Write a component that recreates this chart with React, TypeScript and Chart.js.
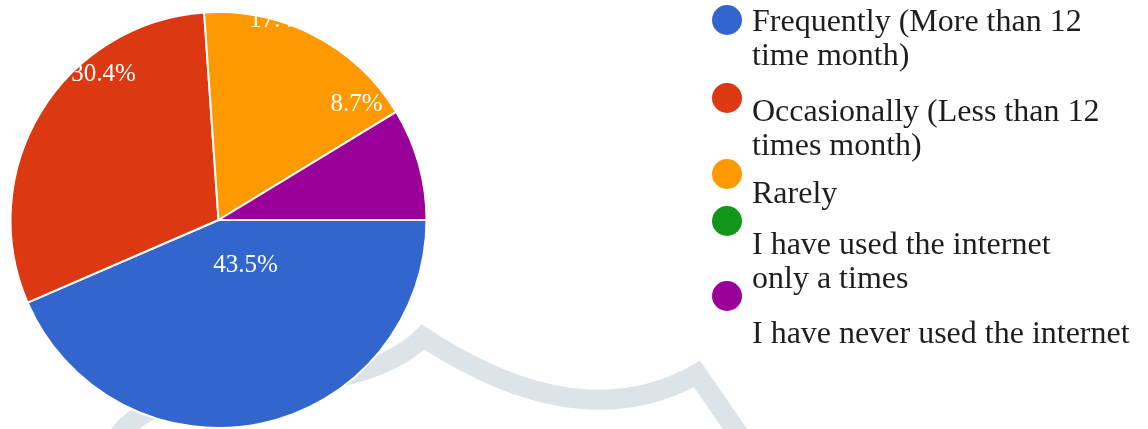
import React, { useEffect, useRef } from "react";
import { Chart, registerables } from "chart.js";

Chart.register(...registerables);

// ---- data ----
const legendLines: string[][] = [
  ["Frequently (More than 12", "time month)"],
  ["Occasionally (Less than 12", "times month)"],
  ["Rarely"],
  ["I have used the internet", "only a times"],
  ["I have never used the internet"],
];
const categories = legendLines.map((l) => l.join(" "));
const shares = [43.5, 30.4, 17.4, 0, 8.7];
const sliceLabels = ["43.5%", "30.4%", "17.4%", "", "8.7%"];
const sliceColors = ["#3366cc", "#dc3912", "#ff9900", "#109618", "#990099"];

// ---- styling / layout (not data) ----
const labelPlacement = [
  { angle: 58.5, r: 0.248 },
  { angle: 232, r: 0.897 },
  { angle: 287.4, r: 1.014 },
  { angle: 0, r: 0 },
  { angle: 319.7, r: 0.87 },
];
const legendLayout = {
  markerX: 727,
  markerR: 15,
  textX: 752,
  markerY: [20, 98, 174, 221, 296],
  lineY: [[31, 65], [121, 155], [203], [254, 288], [343]],
};
const SERIF = "'Liberation Serif', 'Times New Roman', serif";

const watermarkPlugin = {
  id: "watermark",
  beforeDatasetsDraw(chart: any) {
    const ctx = chart.ctx;
    ctx.save();
    ctx.strokeStyle = "#dde4e7";
    ctx.lineWidth = 20;
    ctx.lineJoin = "miter";
    ctx.lineCap = "butt";
    ctx.beginPath();
    ctx.moveTo(113, 445);
    ctx.bezierCurveTo(155, 360, 345, 415, 423, 337);
    ctx.quadraticCurveTo(580, 440, 697, 374);
    ctx.lineTo(744, 442);
    ctx.stroke();
    ctx.restore();
  },
};

const sliceLabelPlugin = {
  id: "sliceLabels",
  afterDatasetsDraw(chart: any) {
    const ctx = chart.ctx;
    const meta = chart.getDatasetMeta(0);
    ctx.save();
    ctx.font = `25px ${SERIF}`;
    ctx.fillStyle = "#ffffff";
    ctx.textAlign = "center";
    ctx.textBaseline = "alphabetic";
    meta.data.forEach((arc: any, i: number) => {
      const txt = sliceLabels[i];
      if (!txt) return;
      const { x, y, outerRadius } = arc.getProps(["x", "y", "outerRadius"], true);
      const p = labelPlacement[i];
      const a = (p.angle * Math.PI) / 180;
      const lx = x + Math.cos(a) * outerRadius * p.r;
      const ly = y + Math.sin(a) * outerRadius * p.r;
      ctx.fillText(txt, lx, ly + 8.5);
    });
    ctx.restore();
  },
};

const legendPlugin = {
  id: "customLegend",
  afterDraw(chart: any) {
    const ctx = chart.ctx;
    ctx.save();
    legendLines.forEach((lines, i) => {
      ctx.beginPath();
      ctx.fillStyle = sliceColors[i];
      ctx.arc(legendLayout.markerX, legendLayout.markerY[i], legendLayout.markerR, 0, Math.PI * 2);
      ctx.fill();
      ctx.fillStyle = "#1e1e1e";
      ctx.font = `32px ${SERIF}`;
      ctx.textAlign = "left";
      ctx.textBaseline = "alphabetic";
      lines.forEach((ln, j) => {
        ctx.fillText(ln, legendLayout.textX, legendLayout.lineY[i][j]);
      });
    });
    ctx.restore();
  },
};

export default function App() {
  const ref = useRef<HTMLCanvasElement | null>(null);
  useEffect(() => {
    if (!ref.current) return;
    const chart = new Chart(ref.current, {
      type: "pie",
      data: {
        labels: categories,
        datasets: [
          {
            data: shares,
            backgroundColor: sliceColors,
            borderColor: "#ffffff",
            borderWidth: 2,
          },
        ],
      },
      options: {
        responsive: false,
        animation: false,
        rotation: 90,
        layout: { padding: { left: 9, top: 11, right: 720, bottom: 0 } },
        plugins: {
          legend: { display: false },
          tooltip: { enabled: false },
        },
      },
      plugins: [watermarkPlugin, sliceLabelPlugin, legendPlugin],
    } as any);
    return () => chart.destroy();
  }, []);
  return (
    <div style={{ position: "absolute", left: 0, top: 0, width: 1148, height: 429, background: "#fff" }}>
      <canvas ref={ref} width={1148} height={429} style={{ display: "block" }} />
    </div>
  );
}
